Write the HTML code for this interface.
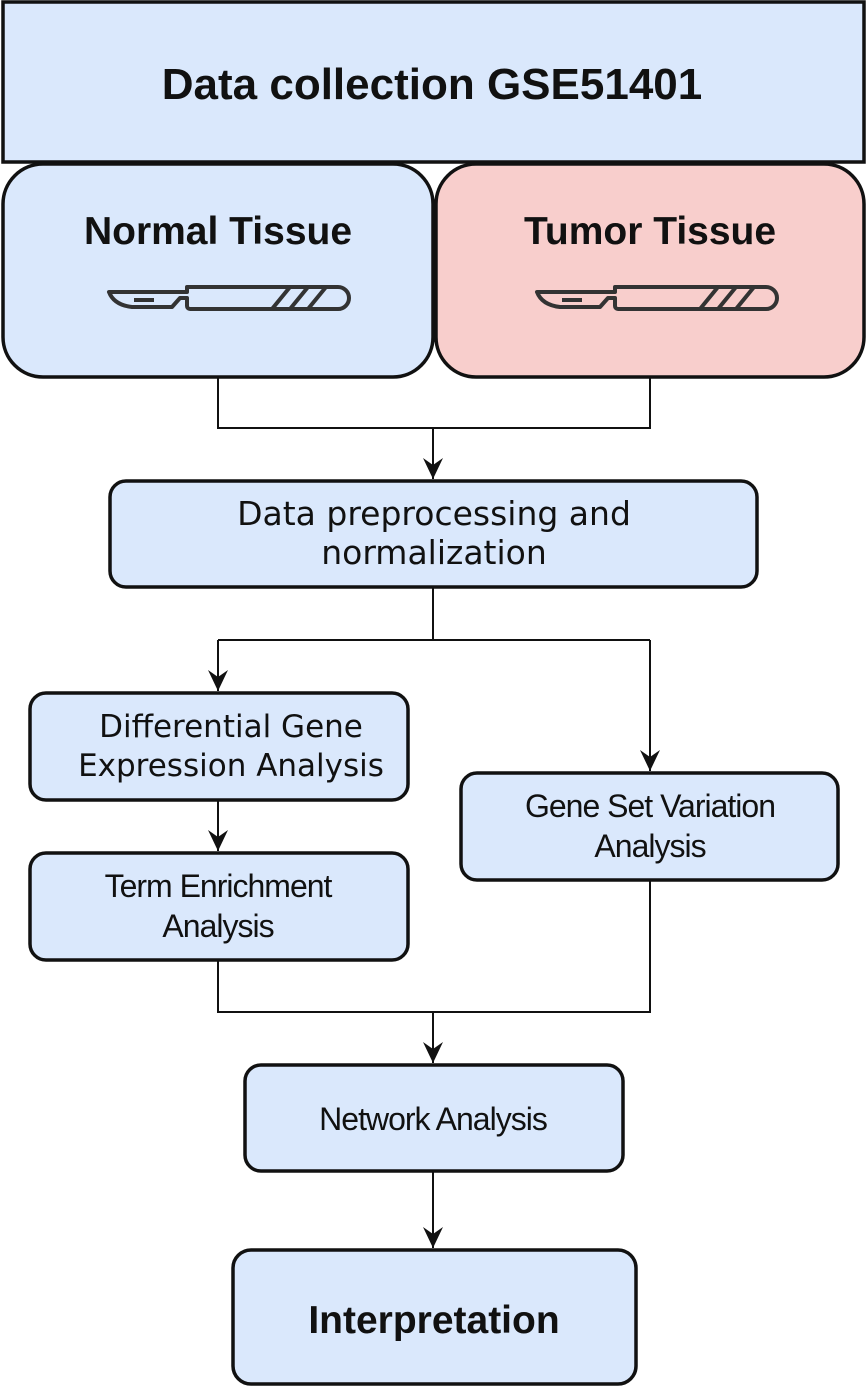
<!DOCTYPE html>
<html><head><meta charset="utf-8"><style>
html,body{margin:0;padding:0;background:#fff;}
svg{display:block}
text{fill:#111}
</style></head><body>
<svg width="866" height="1386" viewBox="0 0 866 1386" xmlns="http://www.w3.org/2000/svg">
<defs>
<marker id="a" markerWidth="22" markerHeight="24" refX="11" refY="22" orient="0" markerUnits="userSpaceOnUse">
<path d="M1,1 L11,22 L21,1 L11,8 Z" fill="#111"/>
</marker>
</defs>
<g stroke="#111" stroke-width="2" fill="none">
<path d="M218,377 V428 H650 V377"/>
<path d="M433,428 V479" marker-end="url(#a)"/>
<path d="M433,587 V640"/>
<path d="M218,640 H650"/>
<path d="M218,640 V691" marker-end="url(#a)"/>
<path d="M650,640 V771" marker-end="url(#a)"/>
<path d="M218,800 V851" marker-end="url(#a)"/>
<path d="M218,960 V1012 H650 V880"/>
<path d="M433,1012 V1063" marker-end="url(#a)"/>
<path d="M433,1171 V1248" marker-end="url(#a)"/>
</g>
<g stroke="#111" stroke-width="3.5" fill="#dae8fc">
<rect x="3" y="2" width="861" height="160"/>
<rect x="3" y="164" width="430" height="213" rx="40"/>
<rect x="436" y="164" width="428" height="213" rx="40" fill="#f8cecc"/>
<rect x="110" y="481" width="647" height="106" rx="16"/>
<rect x="30" y="693" width="378" height="107" rx="16"/>
<rect x="30" y="853" width="378" height="107" rx="16"/>
<rect x="461" y="773" width="377" height="107" rx="16"/>
<rect x="245" y="1065" width="378" height="106" rx="16"/>
<rect x="233" y="1250" width="403" height="134" rx="18"/>
</g>
<g stroke="#333" stroke-width="4" fill="none" stroke-linejoin="round">
<g id="sc">
<path d="M187,287 H338 a11,11 0 0 1 0,22 H190 a3,3 0 0 1 -3,-3 V298 H180 l-8,9 H132 Q114,305 109,292 H187 Z"/>
<path d="M134,300 H154"/>
<path d="M272,309 L290,287 M290,309 L308,287 M308,309 L326,287"/>
</g>
<use href="#sc" x="428" y="0"/>
</g>
<g font-family="Liberation Sans, sans-serif" text-anchor="middle">
<text x="432" y="99" font-size="44" font-weight="bold">Data collection GSE51401</text>
<text x="218" y="244" font-size="39" font-weight="bold">Normal Tissue</text>
<text x="650" y="244" font-size="39" font-weight="bold">Tumor Tissue</text>
<text x="434" y="1333" font-size="39" font-weight="bold">Interpretation</text>
</g>
<g font-family="DejaVu Sans, sans-serif" text-anchor="middle" font-size="32">
<text x="434" y="525" font-size="33">Data preprocessing and</text>
<text x="434" y="564" font-size="33">normalization</text>
<text x="231" y="737" font-size="31">Differential Gene</text>
<text x="231" y="776" font-size="31">Expression Analysis</text>
</g>
<g font-family="Liberation Sans, sans-serif" text-anchor="middle" font-size="32" letter-spacing="-1">
<text x="650" y="817">Gene Set Variation</text>
<text x="650" y="857">Analysis</text>
<text x="218" y="897">Term Enrichment</text>
<text x="218" y="937">Analysis</text>
<text x="433" y="1130">Network Analysis</text>
</g>
</svg>
</body></html>
